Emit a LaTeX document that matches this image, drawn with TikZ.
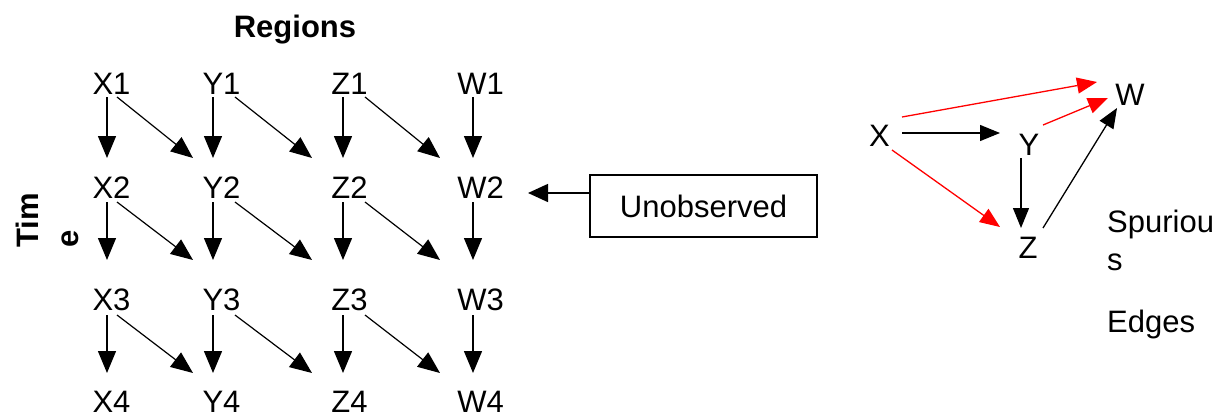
\documentclass[tikz,border=0pt]{standalone}
\usepackage{fontspec}
\setmainfont{Liberation Sans}
\usetikzlibrary{arrows.meta,calc}
\begin{document}
\begin{tikzpicture}[x=1pt,y=-1pt,
  lbl/.style={inner sep=0pt,font=\fontsize{31}{37}\selectfont},
  blbl/.style={inner sep=0pt,font=\fontsize{31}{37}\selectfont\bfseries},
  arr/.style={line width=1.4pt,-{Triangle[length=22pt,width=18pt]}},
  sarr/.style={line width=1.3pt,-{Triangle[length=20pt,width=16pt]}},
  rarr/.style={sarr,draw=red,-{Triangle[length=20pt,width=16pt,fill=red]},color=red}]
\useasboundingbox (0,0) rectangle (1220,415);
% title labels
\node[blbl,anchor=base] (reg) at (295,37) {Regions};
\node[blbl,anchor=base west,rotate=90] (tim) at (38,248) {Tim};
\node[blbl,anchor=base west,rotate=90] (tie) at (78,248) {e};
% grid nodes
\foreach \c/\x in {X/111.5,Y/221.5,Z/349.5,W/480.5}{
  \foreach \r/\y in {1/84,2/188,3/300,4/401.5}{
    \node[lbl] (\c\r) at (\x,\y) {\c\r};
  }
}
% vertical arrows
\foreach \c/\o in {X/-4.5,Y/-8.5,Z/-6.5,W/-7.5}{
  \draw[arr] ($(\c1)+(\o,13)$) -- ($(\c2)+(\o,-30)$);
  \draw[arr] ($(\c2)+(\o,14)$) -- ($(\c3)+(\o,-40)$);
  \draw[arr] ($(\c3)+(\o,15)$) -- ($(\c4)+(\o,-28.5)$);
}
% diagonal arrows
\foreach \a/\b/\s/\e in {X/Y/5.5/-28.5,Y/Z/13.5/-37.5,Z/W/15.5/-40.5}{
  \draw[arr,line width=1.2pt] ($(\a1)+(\s,13)$) -- ($(\b2)+(\e,-30)$);
  \draw[arr,line width=1.2pt] ($(\a2)+(\s,14)$) -- ($(\b3)+(\e,-40)$);
  \draw[arr,line width=1.2pt] ($(\a3)+(\s,15)$) -- ($(\b4)+(\e,-28.5)$);
}
% unobserved box
\node[lbl,draw,line width=1.5pt,minimum width=227pt,minimum height=62pt] (U) at (703.5,206) {Unobserved};
\draw[line width=1.5pt,-{Triangle[length=20pt,width=18pt]}] ($(U.west)+(0,-13)$) -- ($(W2)+(47.5,5)$);
% right graph
\node[lbl] (gX) at (879.5,136) {X};
\node[lbl] (gY) at (1029,145) {Y};
\node[lbl] (gW) at (1130,95) {W};
\node[lbl] (gZ) at (1028,248) {Z};
\draw[sarr] ($(gX)+(22.5,-3)$) -- ($(gY)+(-29,-12)$);
\draw[rarr] ($(gX)+(22.5,-19)$) -- ($(gW)+(-33,-13)$);
\draw[rarr] ($(gY)+(14,-20)$) -- ($(gW)+(-22,3)$);
\draw[rarr] ($(gX)+(12.5,14)$) -- ($(gZ)+(-28,-21)$);
\draw[sarr] ($(gY)+(-8,13)$) -- ($(gZ)+(-7,-20)$);
\draw[sarr] ($(gZ)+(15,-20)$) -- ($(gW)+(-13,13)$);
\node[lbl,anchor=base west] (sp1) at (1107,232) {Spuriou};
\node[lbl,anchor=base west] (sp2) at (1107,270) {s};
\node[lbl,anchor=base west] (sp3) at (1107,332) {Edges};
\end{tikzpicture}
\end{document}
